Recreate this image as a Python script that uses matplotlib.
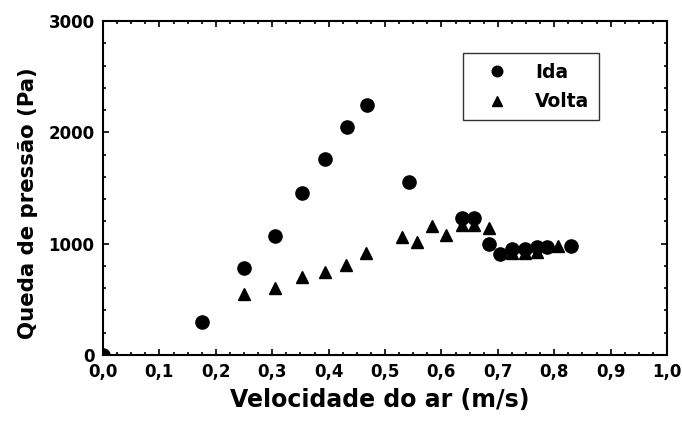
import matplotlib
matplotlib.use('Agg')
import matplotlib.pyplot as plt
from matplotlib.ticker import MultipleLocator, FuncFormatter

plt.rcParams['font.family'] = 'DejaVu Sans'
plt.rcParams['font.weight'] = 'bold'

# data
ida_v = [0.0, 0.176, 0.25, 0.305, 0.353, 0.394, 0.432, 0.468, 0.543, 0.636, 0.658,
         0.684, 0.704, 0.726, 0.748, 0.770, 0.788, 0.829]
ida_dp = [0, 296, 781, 1072, 1458, 1758, 2045, 2246, 1557, 1228, 1228,
          994, 907, 952, 952, 967, 967, 979]

volta_v = [0.25, 0.305, 0.352, 0.394, 0.431, 0.466, 0.530, 0.556, 0.584, 0.609,
           0.636, 0.658, 0.684, 0.726, 0.748, 0.770, 0.807]
volta_dp = [545, 599, 704, 749, 809, 913, 1057, 1012, 1162, 1078,
            1170, 1170, 1138, 913, 913, 928, 979]

fig = plt.figure(figsize=(6.82, 4.21), dpi=100)
ax = fig.add_axes([103/682, 66/421, 564/682, 334/421])

ax.plot(volta_v, volta_dp, linestyle='none', marker='^', color='black', markersize=8.5, label='Volta')
ax.plot(ida_v, ida_dp, linestyle='none', marker='o', color='black', markersize=9.5, label='Ida')

ax.set_xlim(0, 1.0)
ax.set_ylim(0, 3000)
ax.xaxis.set_major_locator(MultipleLocator(0.1))
ax.xaxis.set_minor_locator(MultipleLocator(0.025))
ax.yaxis.set_major_locator(MultipleLocator(1000))
ax.yaxis.set_minor_locator(MultipleLocator(200))
ax.xaxis.set_major_formatter(FuncFormatter(lambda v, p: ('%.1f' % v).replace('.', ',')))
ax.yaxis.set_major_formatter(FuncFormatter(lambda v, p: '%d' % v))

ax.tick_params(which='both', direction='in', top=True, right=True, width=1.2,
               labelsize=12, pad=6)
ax.tick_params(which='major', length=4)
ax.tick_params(which='minor', length=2.5)
for s in ax.spines.values():
    s.set_linewidth(1.5)

ax.set_xlabel('Velocidade do ar (m/s)', fontsize=17, fontweight='bold')
ax.set_ylabel('Queda de pressão (Pa)', fontsize=15.3, fontweight='bold')
ax.xaxis.set_label_coords(0.49, -0.099)
ax.yaxis.set_label_coords(-0.116, 0.455)

h, l = ax.get_legend_handles_labels()
leg = ax.legend([h[1], h[0]], [l[1], l[0]], loc='upper left',
                bbox_to_anchor=(0.638, 0.708, 0.242, 0.195), mode='expand',
                fontsize=13.5, frameon=True, fancybox=False, edgecolor='black',
                handletextpad=0.75, borderpad=0.5, labelspacing=0.55, handlelength=2.6,
                borderaxespad=0, markerscale=0.8)
leg.get_frame().set_linewidth(1.0)

fig.savefig('out.png', dpi=100)
